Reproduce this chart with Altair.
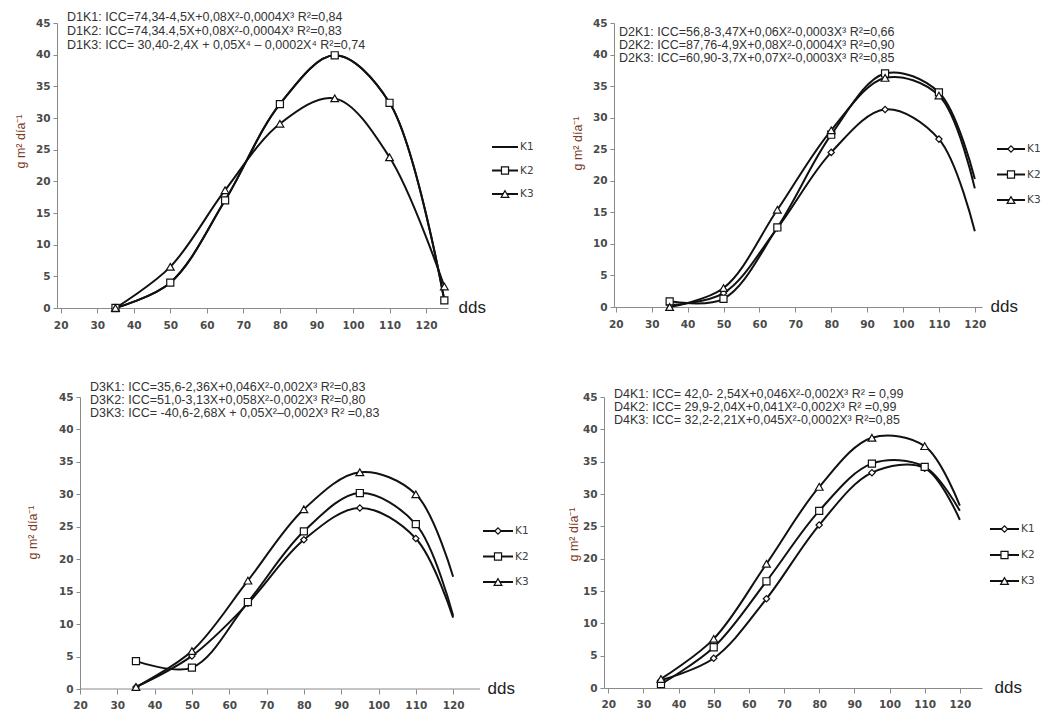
import altair as alt
import pandas as pd

series = ["K1", "K2", "K3"]
x_ticks = [20, 30, 40, 50, 60, 70, 80, 90, 100, 110, 120]
y_ticks = [0, 5, 10, 15, 20, 25, 30, 35, 40, 45]

# Panel D1 (points also at 125)
x_d1 = [35, 50, 65, 80, 95, 110, 125]
d1_k1 = [0.0, 4.0, 17.0, 32.2, 39.9, 32.4, 1.2]
d1_k2 = [0.0, 4.0, 17.0, 32.2, 39.9, 32.4, 1.2]
d1_k3 = [0.0, 6.5, 18.6, 29.1, 33.1, 23.8, 3.4]

# Panels D2-D4 (curve reaches 120, last marker at 110)
x_dn = [35, 50, 65, 80, 95, 110, 120]
d2_k1 = [0.3, 2.2, 12.5, 24.5, 31.3, 26.6, 12.0]
d2_k2 = [0.9, 1.3, 12.6, 27.3, 37.0, 34.0, 20.3]
d2_k3 = [0.0, 3.0, 15.4, 28.0, 36.3, 33.5, 18.8]

d3_k1 = [0.3, 5.1, 13.2, 23.0, 27.9, 23.2, 11.0]
d3_k2 = [4.3, 3.3, 13.4, 24.3, 30.2, 25.4, 11.3]
d3_k3 = [0.3, 5.85, 16.7, 27.7, 33.4, 30.0, 17.3]

d4_k1 = [1.2, 4.6, 13.8, 25.2, 33.3, 34.0, 26.0]
d4_k2 = [0.6, 6.3, 16.5, 27.4, 34.7, 34.2, 27.4]
d4_k3 = [1.4, 7.6, 19.2, 31.1, 38.7, 37.4, 28.2]

eq_d1 = ["D1K1: ICC=74,34-4,5X+0,08X²-0,0004X³ R²=0,84",
         "D1K2: ICC=74,34.4,5X+0,08X²-0,0004X³ R²=0,83",
         "D1K3: ICC= 30,40-2,4X + 0,05X⁴ – 0,0002X⁴ R²=0,74"]
eq_d2 = ["D2K1: ICC=56,8-3,47X+0,06X²-0,0003X³ R²=0,66",
         "D2K2: ICC=87,76-4,9X+0,08X²-0,0004X³ R²=0,90",
         "D2K3: ICC=60,90-3,7X+0,07X²-0,0003X³ R²=0,85"]
eq_d3 = ["D3K1: ICC=35,6-2,36X+0,046X²-0,002X³  R²=0,83",
         "D3K2: ICC=51,0-3,13X+0,058X²-0,002X³ R²=0,80",
         "D3K3: ICC= -40,6-2,68X + 0,05X²–0,002X³ R² =0,83"]
eq_d4 = ["D4K1: ICC= 42,0- 2,54X+0,046X²-0,002X³ R² = 0,99",
         "D4K2: ICC= 29,9-2,04X+0,041X²-0,002X³ R² =0,99",
         "D4K3: ICC= 32,2-2,21X+0,045X²-0,0002X³ R²=0,85"]

y_title = "g m² día⁻¹"
shape_range = ["diamond", "square", "triangle-up"]
size_range = [40, 60, 60]
INK = "#111111"
LBL = "#4a4a4a"
AX = "#8a8a8a"


def panel(xs, ks, eqs, W, H, xdom, last_marker, k1_marker, leg, eqpos, tpos, dds_x,
          yoff=0, xline=None, lpad=7):
    rows = []
    for s, vals in zip(series, ks):
        for i, (xv, yv) in enumerate(zip(xs, vals)):
            mk = (i < len(xs) - 1 or last_marker) and (s != "K1" or k1_marker)
            rows.append({"x": xv, "y": yv, "serie": s, "mk": bool(mk)})
    df = pd.DataFrame(rows)

    xenc = alt.X("x:Q", scale=alt.Scale(domain=xdom, nice=False, zero=False),
                 axis=alt.Axis(values=x_ticks, tickCount=30, title="dds", grid=False,
                               labelOverlap=False, domain=(xline is None),
                               domainColor=AX, tickColor=AX, tickSize=5,
                               labelColor=LBL, labelFont="DejaVu Sans", labelFontWeight="bold",
                               labelFontSize=10.5, labelPadding=lpad, labelFlush=False,
                               titleFont="Liberation Sans", titleFontSize=17,
                               titleFontWeight="normal", titleColor="#222222",
                               titleX=dds_x, titleY=-1, titleAlign="left",
                               titleBaseline="middle"))
    yenc = alt.Y("y:Q", scale=alt.Scale(domain=[0, 45], nice=False),
                 axis=alt.Axis(values=y_ticks, tickCount=30, title=y_title, grid=False,
                               labelOverlap=False, offset=yoff,
                               domainColor=AX, tickColor=AX, tickSize=4,
                               labelColor=LBL, labelFont="DejaVu Sans", labelFontWeight="bold",
                               labelFontSize=10.5, labelPadding=3, labelFlush=False,
                               titleFont="Liberation Sans", titleFontSize=12.5,
                               titleFontWeight="normal", titleColor="#7b3a22",
                               titleX=tpos[0], titleY=tpos[1]))
    shape = alt.Shape("serie:N", scale=alt.Scale(domain=series, range=shape_range), legend=None)
    size = alt.Size("serie:O", scale=alt.Scale(domain=series, range=size_range), legend=None)

    base = alt.Chart(df)
    lines = base.mark_line(interpolate="catmull-rom", color=INK, strokeWidth=2).encode(
        x=xenc, y=yenc, detail="serie:N")
    pts = base.transform_filter("datum.mk").mark_point(
        filled=True, fill="white", stroke=INK, strokeWidth=1.2, opacity=1).encode(
        x="x:Q", y="y:Q", shape=shape, size=size)
    main_layers = [lines, pts]
    if xline is not None:
        axl = alt.Chart(pd.DataFrame({"a": [xline[0]], "b": [xline[1]]})).mark_rule(
            color=AX, strokeWidth=1).encode(x="a:Q", x2="b:Q", y=alt.value(H))
        main_layers.insert(0, axl)
    main = alt.layer(*main_layers)

    lx0, lx1, ly0, ly1 = leg
    leg_df = pd.DataFrame({"serie": series, "lm": [k1_marker, True, True]})
    ly = alt.Y("serie:N", scale=alt.Scale(type="point", domain=series, range=[ly0, ly1], padding=0),
               axis=None)
    lb = alt.Chart(leg_df)
    leg_rule = lb.mark_rule(color=INK, strokeWidth=2).encode(
        x=alt.value(lx0), x2=alt.value(lx1), y=ly)
    leg_pt = lb.transform_filter("datum.lm").mark_point(
        filled=True, fill="white", stroke=INK, strokeWidth=1.2, opacity=1).encode(
        x=alt.value((lx0 + lx1) / 2), y=ly, shape=shape, size=size)
    leg_txt = lb.mark_text(align="left", baseline="middle", fontSize=10.5,
                           font="DejaVu Sans", color="#404040").encode(
        x=alt.value(lx1 + 2), y=ly, text="serie:N")
    legend = alt.layer(leg_rule, leg_pt, leg_txt)

    ex, ey0, ey1 = eqpos
    eq_df = pd.DataFrame({"i": [0, 1, 2], "t": eqs})
    eq = alt.Chart(eq_df).mark_text(
        align="left", baseline="middle", fontSize=12.5, font="Liberation Sans",
        color="#333333").encode(
        x=alt.value(ex),
        y=alt.Y("i:O", scale=alt.Scale(type="point", domain=[0, 1, 2], range=[ey0, ey1], padding=0),
                axis=None),
        text="t:N")

    return alt.layer(main, legend, eq).resolve_scale(y="independent").properties(width=W, height=H)


p1 = panel(x_d1, [d1_k1, d1_k2, d1_k3], eq_d1, 391, 285, [19, 126], True, False,
           (435, 461, 124, 171), (10, -6.5, 22), (-30, 118), 401)
p2 = panel(x_dn, [d2_k1, d2_k2, d2_k3], eq_d2, 368, 284, [19.5, 122], False, True,
           (383, 411, 126, 177), (5, 8.5, 35), (-30, 120), 376)
# D3: plot area starts at the same left edge as D1; its y axis is moved inward
p3 = panel(x_dn, [d3_k1, d3_k2, d3_k3], eq_d3, 423, 292, [13.84, 127.2], False, True,
           (426, 456, 134, 185), (33, -10, 16), (-41, 135), 430,
           yoff=-23, xline=(20, 127.2), lpad=6)
p4 = panel(x_dn, [d4_k1, d4_k2, d4_k3], eq_d4, 378, 291, [18.8, 126.3], False, True,
           (386, 415, 132, 184), (10, -3, 23), (-24, 137), 390, lpad=6)

chart = alt.vconcat(
    alt.hconcat(p1, p2, spacing=37),
    alt.hconcat(p3, p4, spacing=38),
    spacing=50,
).properties(
    padding={"left": 6, "top": 2, "right": 0, "bottom": 0}
).configure_view(stroke=None)

chart.save("out.html", embed_options={"renderer": "svg", "actions": False})
